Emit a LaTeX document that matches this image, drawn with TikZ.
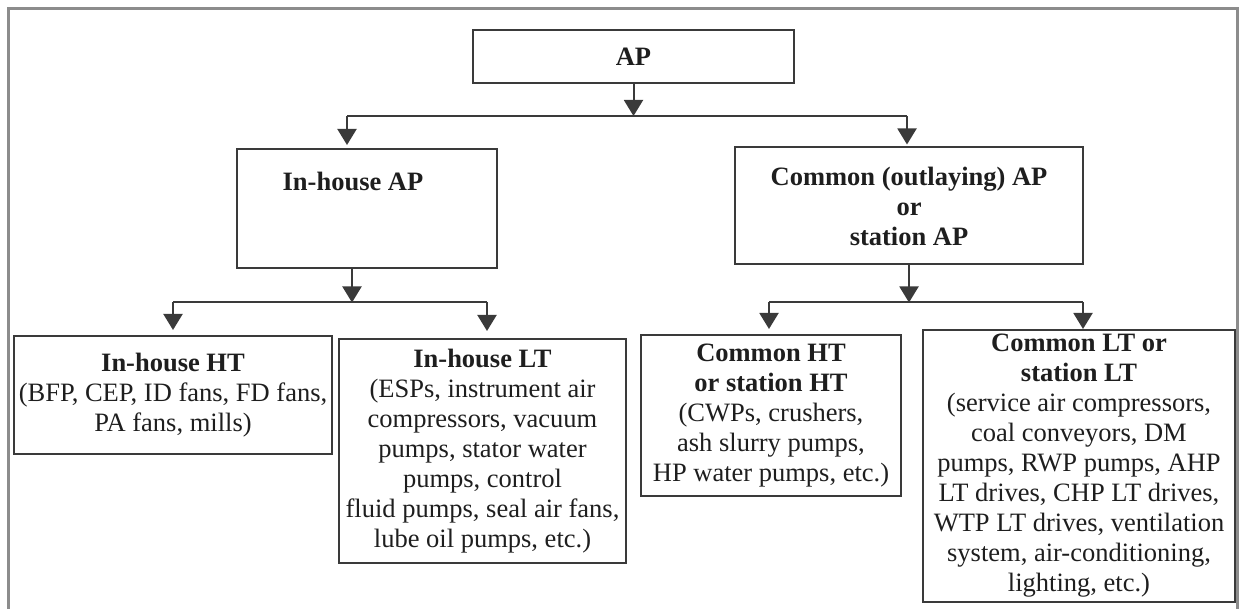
\documentclass[tikz,border=0pt]{standalone}
\usepackage{fontspec}
\setmainfont{Liberation Serif}
\usetikzlibrary{arrows.meta}
\definecolor{boxline}{HTML}{3A3A3A}
\definecolor{frameline}{HTML}{8C8C8C}
\definecolor{ink}{HTML}{1E1E1E}
\begin{document}
\begin{tikzpicture}[x=1pt,y=-1pt,
  txt/.style={text=ink, font=\fontsize{26.5}{30}\selectfont},
  box/.style={txt, draw=boxline, line width=2pt, inner sep=0pt, align=center},
  link/.style={draw=boxline, line width=2pt},
  arr/.style={link, -{Triangle[length=16pt,width=19pt]}}]

\useasboundingbox (0,0) rectangle (1240,609);

% open outer frame
\draw[frameline, line width=3pt] (8.5,609) -- (8.5,8.5) -- (1237.5,8.5) -- (1237.5,609);

% top level
\node[box, minimum width=321, minimum height=53] (ap) at (633.5,56.5) {\textbf{AP}};

% second level
\node[box, minimum width=260, minimum height=119] (inap) at (366.5,208.5) {};
\node[txt, font=\fontsize{26.5}{30}\selectfont\bfseries] (inaplabel) at (353,181) {In-house AP};
\node[box, minimum width=348, minimum height=117] (cmap) at (909,206)
  {\textbf{Common (outlaying) AP}\\\textbf{or}\\\textbf{station AP}};

% third level
\node[box, minimum width=318, minimum height=118] (inht) at (173,395)
  {\textbf{In-house HT}\\(BFP, CEP, ID fans, FD fans,\\PA fans, mills)};
\node[box, minimum width=287, minimum height=224] (inlt) at (482.5,451)
  {\textbf{In-house LT}\\(ESPs, instrument air\\compressors, vacuum\\pumps, stator water\\pumps, control\\fluid pumps, seal air fans,\\lube oil pumps, etc.)};
\node[box, minimum width=260, minimum height=161] (cmht) at (771,415.5)
  {\textbf{Common HT}\\\textbf{or station HT}\\(CWPs, crushers,\\ash slurry pumps,\\HP water pumps, etc.)};
\node[box, minimum width=312, minimum height=272] (cmlt) at (1079,466)
  {\textbf{Common LT or}\\\textbf{station LT}\\(service air compressors,\\coal conveyors, DM\\pumps, RWP pumps, AHP\\LT drives, CHP LT drives,\\WTP LT drives, ventilation\\system, air-conditioning,\\lighting, etc.)};

% junction points of the branch lines
\coordinate (ja) at (633.5,116);
\coordinate (jl) at (347,116);
\coordinate (jr) at (907,116);
\coordinate (ka) at (352,302.5);
\coordinate (kl) at (173,302.5);
\coordinate (kr) at (487,302.5);
\coordinate (ma) at (909,302.5);
\coordinate (ml) at (769,302.5);
\coordinate (mr) at (1083,302.5);

% AP -> in-house / common
\draw[arr] (ap.south) -- (ja);
\draw[link] (jl) -- (jr);
\draw[arr, shorten >=3pt] (jl) -- (jl |- inap.north);
\draw[arr, shorten >=2pt] (jr) -- (jr |- cmap.north);

% in-house AP -> HT / LT
\draw[arr] (ka |- inap.south) -- (ka);
\draw[link] (kl) -- (kr);
\draw[arr, shorten >=5pt] (kl) -- (kl |- inht.north);
\draw[arr, shorten >=7pt] (kr) -- (kr |- inlt.north);

% common AP -> HT / LT
\draw[arr] (cmap.south) -- (ma);
\draw[link] (ml) -- (mr);
\draw[arr, shorten >=5pt] (ml) -- (ml |- cmht.north);
\draw[arr] (mr) -- (mr |- cmlt.north);
\end{tikzpicture}
\end{document}
